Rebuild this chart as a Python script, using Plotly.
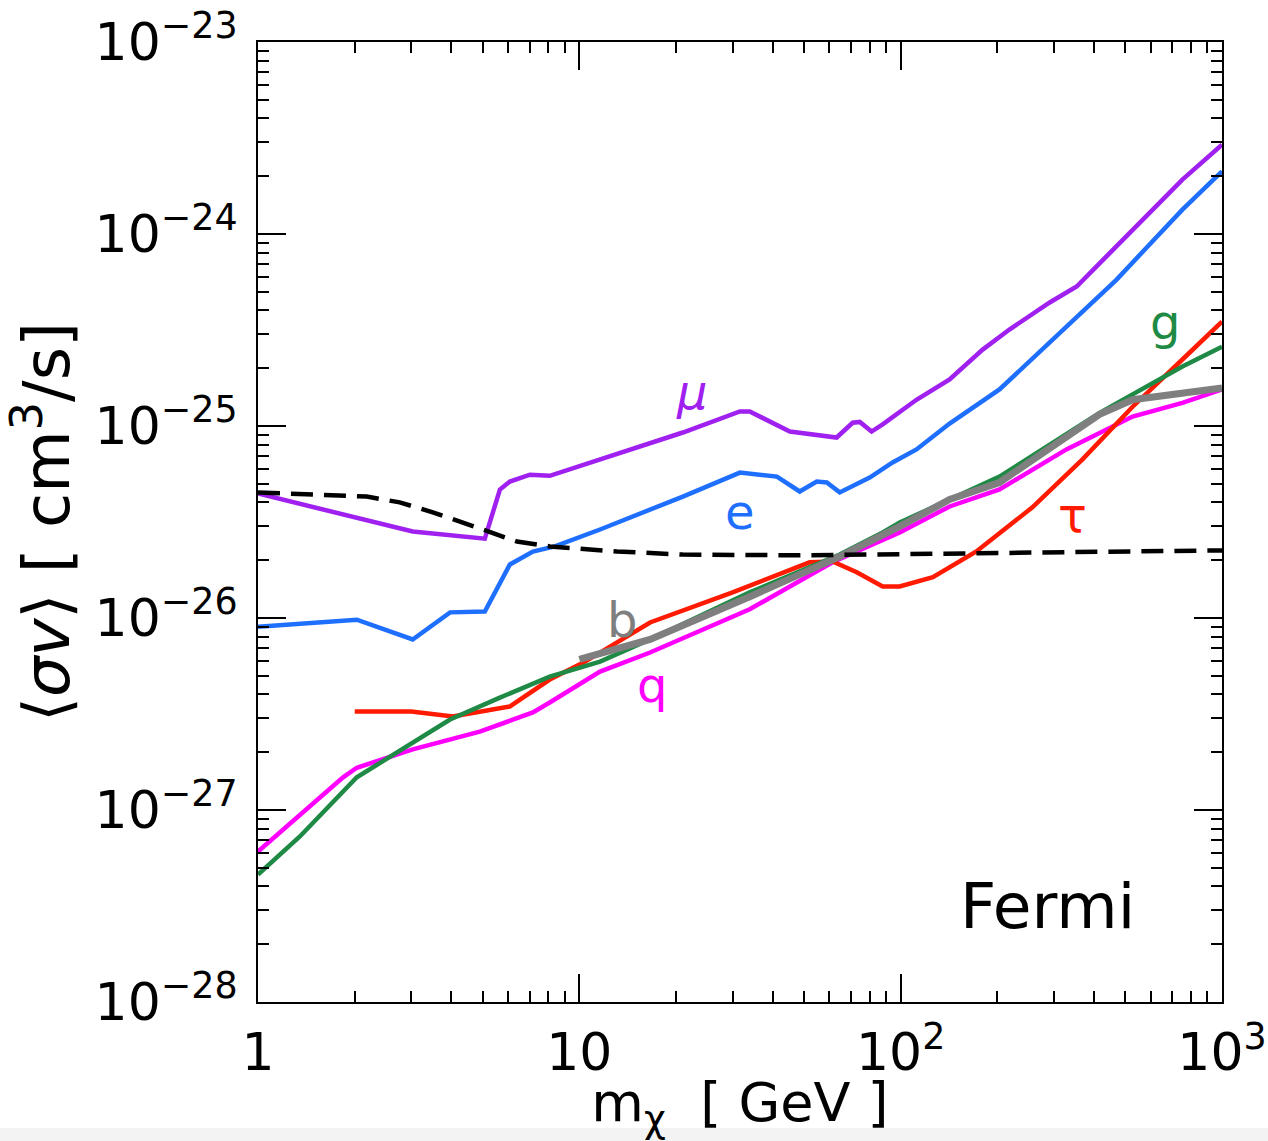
import numpy as np
import plotly.graph_objects as go

# ---- data ----
mu_x = [1, 3.03, 5.08, 5.66, 6.08, 7.02, 8.09, 11.6, 21.0, 31.6, 33.9, 45.2, 63.2, 70.9, 74.6, 81.2, 87.9,
        112, 142, 180, 218, 291, 353, 437, 566, 753, 1000]
mu_y = [4.45e-26, 2.82e-26, 2.59e-26, 4.67e-26, 5.14e-26, 5.58e-26, 5.5e-26, 6.70e-26, 9.25e-26, 1.19e-25,
        1.19e-25, 9.36e-26, 8.71e-26, 1.04e-25, 1.05e-25, 9.36e-26, 1.02e-25,
        1.37e-25, 1.75e-25, 2.50e-25, 3.18e-25, 4.40e-25, 5.33e-25, 7.64e-25, 1.19e-24, 1.92e-24, 2.92e-24]

e_x = [1, 2.03, 3.03, 3.96, 5.08, 6.08, 7.17, 8.39, 11.6, 21.0, 31.6, 41.2, 48.5, 54.8, 58.9, 64.6, 80.1,
       94.4, 112, 142, 203, 291, 368, 470, 595, 753, 1000]
e_y = [9.0e-27, 9.8e-27, 7.73e-27, 1.07e-26, 1.08e-26, 1.90e-26, 2.22e-26, 2.36e-26, 2.89e-26, 4.29e-26,
       5.72e-26, 5.45e-26, 4.56e-26, 5.14e-26, 5.08e-26, 4.51e-26, 5.39e-26,
       6.46e-26, 7.55e-26, 1.03e-25, 1.55e-25, 2.72e-25, 3.90e-25, 5.79e-25, 8.82e-25, 1.34e-24, 2.12e-24]

tau_x = [2.0, 3.0, 4.04, 6.07, 8.09, 10.3, 16.6, 30.0, 52.1, 61.4, 73.0, 87.9, 99.3, 126, 172, 257, 368,
         527, 753, 1000]
tau_y = [3.26e-27, 3.26e-27, 3.07e-27, 3.46e-27, 4.78e-27, 5.86e-27, 9.48e-27, 1.36e-26, 1.95e-26, 1.97e-26,
         1.73e-26, 1.46e-26, 1.46e-26, 1.63e-26, 2.22e-26, 3.77e-26, 6.70e-26, 1.26e-25, 2.22e-25, 3.50e-25]

g_x = [1, 1.35, 2.03, 3.03, 3.96, 5.66, 8.09, 11.6, 16.6, 33.9, 64.6, 87.9, 99.3, 203, 416, 753, 1000]
g_y = [4.61e-28, 7.28e-28, 1.48e-27, 2.25e-27, 2.96e-27, 3.85e-27, 4.95e-27, 5.93e-27, 7.73e-27, 1.36e-26,
       2.14e-26, 2.79e-26, 3.14e-26, 5.45e-26, 1.17e-25, 2.04e-25, 2.59e-25]

b_x = [10, 16.6, 33.9, 64.6, 99.3, 142, 203, 416, 527, 753, 1000]
b_y = [6.08e-27, 7.73e-27, 1.29e-26, 2.09e-26, 3.0e-26, 4.14e-26, 5.08e-26, 1.15e-25, 1.37e-25, 1.49e-25,
       1.58e-25]

q_x = [1, 1.84, 2.03, 3.03, 4.9, 7.17, 8.09, 11.6, 16.6, 33.9, 61.4, 99.3, 142, 203, 328, 527, 753, 1000]
q_y = [6.08e-28, 1.48e-27, 1.66e-27, 2.07e-27, 2.56e-27, 3.22e-27, 3.63e-27, 5.26e-27, 6.61e-27, 1.11e-26,
       1.95e-26, 2.79e-26, 3.81e-26, 4.67e-26, 7.55e-26, 1.12e-25, 1.32e-25, 1.55e-25]

thermal_x = [1, 2.18, 2.76, 3.5, 5.0, 6.4, 8.1, 13.1, 21, 48.5, 99, 291, 1000]
thermal_y = [4.51e-26, 4.29e-26, 4.0e-26, 3.55e-26, 2.89e-26, 2.50e-26, 2.36e-26, 2.22e-26, 2.14e-26,
             2.12e-26, 2.15e-26, 2.2e-26, 2.25e-26]

x_tickvals = [1, 10, 100, 1000]
x_ticktext = ["1", "10", "10<sup>2</sup>", "10<sup>3</sup>"]
y_tickvals = [1e-28, 1e-27, 1e-26, 1e-25, 1e-24, 1e-23]
y_ticktext = ["10<sup>−28</sup>", "10<sup>−27</sup>", "10<sup>−26</sup>",
              "10<sup>−25</sup>", "10<sup>−24</sup>", "10<sup>−23</sup>"]

# ---- styles ----
C_MU = "#a020f0"
C_E = "#1f6fff"
C_TAU = "#ff1a00"
C_G = "#1f8a45"
C_B = "#7f7f7f"
C_Q = "#ff00ff"

FONT = "DejaVu Sans"

fig = go.Figure()

def add(x, y, color, width, dash=None):
    fig.add_trace(go.Scatter(x=x, y=y, mode="lines",
                             line=dict(color=color, width=width, dash=dash),
                             showlegend=False, hoverinfo="skip"))

add(q_x, q_y, C_Q, 4.5)
add(tau_x, tau_y, C_TAU, 4.5)
add(g_x, g_y, C_G, 4.5)
add(b_x, b_y, C_B, 7)
add(e_x, e_y, C_E, 4.5)
add(mu_x, mu_y, C_MU, 4.5)
add(thermal_x, thermal_y, "black", 4.5, dash="22px,11px")

minor_x = [k * 10 ** d for d in range(0, 3) for k in range(2, 10)]
minor_y = [k * 10.0 ** d for d in range(-28, -23) for k in range(2, 10)]

axis_common = dict(
    type="log", showgrid=False, zeroline=False, automargin=False,
    showline=True, linecolor="black", linewidth=2, mirror="ticks",
    ticks="inside", ticklen=28, tickwidth=2, tickcolor="black",
    tickfont=dict(family=FONT, size=52, color="black"),
)

fig.update_xaxes(**axis_common, range=[0, 3], tickmode="array",
                 tickvals=x_tickvals, ticktext=x_ticktext, ticklabelstandoff=4,
                 minor=dict(ticks="inside", ticklen=11, tickwidth=1.5, tickcolor="black",
                            tickmode="array", tickvals=minor_x, showgrid=False),
                 title=dict(text="m<sub>χ</sub>  [ GeV ]", font=dict(family=FONT, size=54, color="black"),
                            standoff=4))
fig.update_yaxes(**axis_common, range=[-28, -23], tickmode="array",
                 tickvals=y_tickvals, ticktext=y_ticktext, ticklabelstandoff=8,
                 minor=dict(ticks="inside", ticklen=11, tickwidth=1.5, tickcolor="black",
                            tickmode="array", tickvals=minor_y, showgrid=False),
                 title=dict(text="⟨<i>σv</i>⟩ [ cm<sup>3</sup>/s]", font=dict(family=FONT, size=64, color="black"),
                            standoff=10))

labels = [
    ("<i>μ</i>", 0.450, 0.6354, C_MU),
    ("e", 0.500, 0.5104, C_E),
    ("b", 0.3776, 0.398, C_B),
    ("q", 0.4087, 0.330, C_Q),
    ("τ", 0.8444, 0.507, C_TAU),
    ("g", 0.941, 0.708, C_G),
]
for txt, xp, yp, col in labels:
    fig.add_annotation(text=txt, x=xp, y=yp, xref="paper", yref="paper", showarrow=False,
                       font=dict(family=FONT, size=48, color=col), xanchor="center", yanchor="middle")

fig.add_annotation(text="Fermi", x=0.8195, y=0.099, xref="paper", yref="paper", showarrow=False,
                   font=dict(family=FONT, size=63, color="black"), xanchor="center", yanchor="middle")

fig.add_shape(type="rect", xref="paper", yref="paper", x0=-0.3, x1=1.1, y0=-0.1448, y1=-0.1313,
              fillcolor="#f3f3f3", line=dict(width=0), layer="below")

fig.update_layout(
    width=1268, height=1141,
    margin=dict(l=258, r=46, t=42, b=139),
    paper_bgcolor="white", plot_bgcolor="white",
    showlegend=False,
    font=dict(family=FONT, color="black"),
)

fig.write_html("out.html")
